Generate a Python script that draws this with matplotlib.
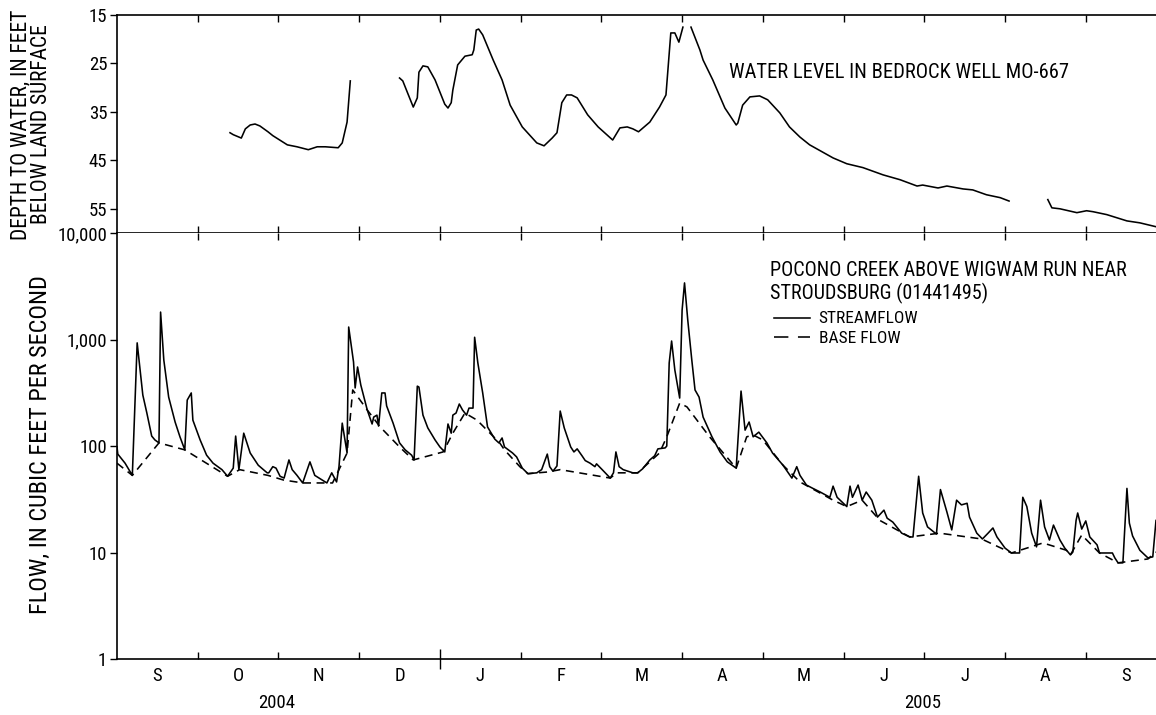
import matplotlib
matplotlib.use('Agg')
import matplotlib.pyplot as plt
import matplotlib.transforms as mtransforms
from matplotlib.ticker import FixedLocator, FuncFormatter, NullLocator

plt.rcParams['font.family'] = ['Roboto Condensed', 'Archivo Narrow', 'PT Sans Narrow', 'DejaVu Sans']

# x positions are in months since 1 Sep 2004 (each month drawn equal width)
month_labels = ['S', 'O', 'N', 'D', 'J', 'F', 'M', 'A', 'M', 'J', 'J', 'A', 'S']
year_labels = ['2004', '2005']
year_pos = [2.0, 10.0]

# water level in bedrock well MO-667, depth below land surface (ft); gaps between pieces
well_x1 = [1.40, 1.44, 1.54, 1.59, 1.65, 1.71, 1.77, 1.87, 1.93, 2.11, 2.23, 2.37, 2.48, 2.58,
           2.74, 2.79, 2.85, 2.89]
well_d1 = [39.3, 39.7, 40.4, 38.5, 37.7, 37.5, 37.9, 39.1, 39.9, 41.8, 42.2, 42.8, 42.2, 42.2,
           42.4, 41.4, 37.1, 28.6]
well_x2 = [3.50, 3.54, 3.60, 3.67, 3.72, 3.74, 3.79, 3.85, 3.94, 4.00, 4.06, 4.10, 4.14, 4.16,
           4.22, 4.31, 4.40, 4.42, 4.45, 4.48, 4.53, 4.66, 4.77, 4.87, 5.02, 5.20, 5.29, 5.39,
           5.45, 5.51, 5.57, 5.63, 5.70, 5.83, 5.96, 6.14, 6.23, 6.32, 6.39, 6.46, 6.60, 6.72,
           6.80, 6.86, 6.91, 6.96, 7.01]
well_d2 = [28.0, 28.6, 31.1, 34.0, 32.1, 26.8, 25.5, 25.7, 28.4, 30.9, 33.4, 34.2, 33.1, 30.5,
           25.3, 23.5, 23.2, 22.2, 18.1, 17.9, 19.1, 24.3, 28.4, 33.6, 38.1, 41.4, 42.0, 40.4,
           39.3, 33.1, 31.5, 31.5, 32.1, 35.6, 38.1, 40.8, 38.3, 38.1, 38.5, 39.1, 37.1, 34.0,
           31.5, 18.7, 18.7, 20.6, 17.5]
well_x3 = [7.11, 7.22, 7.26, 7.38, 7.53, 7.67, 7.69, 7.75, 7.84, 7.96, 8.06, 8.21, 8.33, 8.46,
           8.58, 8.87, 9.04, 9.24, 9.49, 9.70, 9.91, 9.98, 10.17, 10.28, 10.48, 10.60, 10.77,
           10.94, 11.05]
well_d3 = [17.5, 22.2, 24.3, 28.4, 34.2, 37.7, 37.3, 33.6, 31.9, 31.7, 32.5, 35.2, 38.1, 40.2,
           41.8, 44.5, 45.7, 46.5, 48.0, 49.0, 50.3, 50.1, 50.7, 50.3, 50.9, 51.1, 52.1,
           52.7, 53.4]
well_x4 = [11.53, 11.58, 11.68, 11.89, 12.01, 12.09, 12.26, 12.51, 12.67, 12.87]
well_d4 = [53.1, 54.8, 55.0, 55.8, 55.4, 55.6, 56.2, 57.5, 57.9, 58.7]

# Pocono Creek streamflow (ft3/s)
flow_x = [0.00, 0.01, 0.10, 0.19, 0.25, 0.32, 0.37, 0.43, 0.47, 0.52, 0.54, 0.58, 0.64, 0.72,
          0.78, 0.84, 0.87, 0.92, 0.94, 1.03, 1.11, 1.19, 1.30, 1.37, 1.44, 1.47, 1.51, 1.57,
          1.65, 1.75, 1.86, 1.88, 1.93, 1.97, 2.02, 2.07, 2.13, 2.17, 2.23, 2.30, 2.39, 2.45,
          2.54, 2.60, 2.66, 2.72, 2.75, 2.79, 2.85, 2.87, 2.93, 2.95, 2.98, 3.02, 3.10, 3.16,
          3.18, 3.22, 3.24, 3.28, 3.32, 3.34, 3.42, 3.50, 3.57, 3.65, 3.68, 3.72, 3.74, 3.79,
          3.85, 3.94, 4.00, 4.06, 4.10, 4.14, 4.16, 4.20, 4.24, 4.28, 4.33, 4.36, 4.41, 4.43,
          4.47, 4.53, 4.59, 4.68, 4.73, 4.77, 4.80, 4.90, 4.95, 5.02, 5.09, 5.20, 5.26, 5.33,
          5.36, 5.40, 5.45, 5.49, 5.54, 5.62, 5.66, 5.70, 5.76, 5.80, 5.86, 5.92, 5.94, 6.01,
          6.11, 6.15, 6.18, 6.22, 6.27, 6.33, 6.39, 6.45, 6.51, 6.60, 6.66, 6.70, 6.79, 6.81,
          6.84, 6.87, 6.91, 6.97, 7.00, 7.03, 7.07, 7.12, 7.16, 7.21, 7.26, 7.37, 7.47, 7.56,
          7.67, 7.73, 7.78, 7.83, 7.88, 7.95, 8.05, 8.12, 8.25, 8.36, 8.42, 8.46, 8.54, 8.62,
          8.71, 8.83, 8.87, 8.92, 9.04, 9.08, 9.11, 9.18, 9.23, 9.28, 9.35, 9.42, 9.50, 9.54,
          9.61, 9.72, 9.82, 9.86, 9.93, 9.98, 10.04, 10.15, 10.20, 10.28, 10.34, 10.40, 10.46,
          10.53, 10.56, 10.65, 10.72, 10.79, 10.85, 10.90, 11.00, 11.08, 11.18, 11.22, 11.27,
          11.33, 11.39, 11.44, 11.49, 11.55, 11.60, 11.68, 11.74, 11.81, 11.84, 11.88, 11.90,
          11.95, 12.00, 12.05, 12.14, 12.17, 12.26, 12.33, 12.36, 12.40, 12.46, 12.51, 12.54,
          12.58, 12.67, 12.77, 12.83, 12.87]
flow_q = [98, 84, 69, 53, 930, 301, 204, 124, 114, 107, 1810, 642, 288, 168,
          122, 92, 270, 315, 175, 114, 82, 69, 60, 52, 62, 124, 60, 132,
          86, 66, 56, 56, 64, 62, 52, 50, 74, 60, 53, 45, 71, 53,
          48, 45, 56, 46, 64, 164, 86, 1310, 615, 351, 552, 374, 218, 161,
          187, 195, 154, 315, 315, 238, 164, 107, 92, 82, 74, 365, 358, 195,
          148, 114, 98, 88, 161, 132, 195, 204, 248, 218, 195, 227, 227, 1050,
          602, 315, 151, 116, 107, 119, 98, 86, 79, 62, 55, 56, 60, 84,
          64, 58, 65, 213, 148, 98, 88, 94, 81, 73, 69, 64, 68, 60,
          50, 56, 88, 64, 60, 58, 56, 56, 61, 74, 81, 94, 96, 100,
          602, 968, 517, 282, 1890, 3400, 1524, 642, 336, 288, 187, 122, 88, 71,
          62, 328, 141, 168, 122, 135, 107, 86, 66, 50, 64, 53, 43, 40,
          37, 33, 42, 33, 27, 42, 33, 43, 31, 37, 31, 21.5, 25, 21,
          19.3, 15.2, 14.0, 14.0, 52, 23.5, 17.4, 14.9, 39, 24, 16.3, 31, 28,
          29, 21.5, 15.2, 13.4, 15.2, 17.0, 14.0, 11.0, 9.9, 9.9, 33, 27,
          15.2, 11.3, 31, 17.4, 13.1, 18.1, 13.1, 11.0, 9.5, 10.1, 20, 23.5,
          16.6, 19.8, 14.0, 11.8, 9.9, 9.9, 9.9, 8.9, 8.0, 8.0, 40, 18.9,
          14.3, 10.5, 8.9, 9.1, 20]

# base flow (ft3/s)
base_x = [0.00, 0.19, 0.52, 0.84, 1.37, 1.52, 1.87, 2.06, 2.30, 2.67, 2.85, 2.92, 3.10, 3.26,
          3.50, 3.67, 4.04, 4.16, 4.31, 4.46, 4.74, 4.80, 4.99, 5.09, 5.33, 5.49, 6.11, 6.19,
          6.45, 6.72, 6.81, 6.97, 7.06, 7.34, 7.67, 7.80, 7.88, 8.00, 8.25, 8.46, 8.87, 9.04,
          9.23, 9.45, 9.82, 10.19, 10.71, 11.08, 11.47, 11.76, 11.81, 11.95, 12.17, 12.40,
          12.77, 12.87]
base_q = [69, 53, 107, 92, 52, 60, 53, 48, 45, 45, 86, 336, 218, 151,
          98, 74, 88, 132, 204, 175, 107, 92, 64, 55, 57, 60, 50, 56,
          56, 86, 122, 253, 233, 122, 62, 122, 127, 114, 66, 46, 31, 27,
          31, 20, 14.0, 15.2, 13.4, 9.9, 12.3, 10.5, 9.5, 14.6, 9.9, 8.0,
          8.7, 10.1]

fig = plt.figure(figsize=(11.56, 7.15), dpi=100)
ax1 = fig.add_axes([0.1012, 0.6741, 0.8988, 0.3049])
ax2 = fig.add_axes([0.1012, 0.0783, 0.8988, 0.5958])

lw = 1.15
ax1.plot(well_x1, well_d1, '-', color='black', lw=lw)
ax1.plot(well_x2, well_d2, '-', color='black', lw=lw)
ax1.plot(well_x3, well_d3, '-', color='black', lw=lw)
ax1.plot(well_x4, well_d4, '-', color='black', lw=lw)

ax2.plot(flow_x, flow_q, '-', color='black', lw=lw)
ax2.plot(base_x, base_q, '--', color='black', lw=lw, dashes=(5, 3.5))

xmax = 12.87
ax1.set_xlim(0, xmax)
ax2.set_xlim(0, xmax)
ax1.set_ylim(60, 15)
ax2.set_yscale('log')
ax2.set_ylim(1, 10000)

for ax in (ax1, ax2):
    ax.spines['right'].set_visible(False)
    for s in ax.spines.values():
        s.set_linewidth(1.2)
    ax.xaxis.set_major_locator(FixedLocator(range(1, 13)))
    ax.xaxis.set_minor_locator(FixedLocator([i + 0.5 for i in range(13)]))
    ax.tick_params(axis='y', direction='out', length=5, width=1, labelsize=13.5, pad=2)

ax2.spines['top'].set_visible(False)

ax1.set_yticks([15, 25, 35, 45, 55])
ax1.tick_params(axis='x', which='major', top=True, bottom=True, direction='in',
                length=5, width=1, labelbottom=False)
ax1.tick_params(axis='x', which='minor', top=False, bottom=False, labelbottom=False)

ax2.set_yticks([1, 10, 100, 1000, 10000])
ax2.yaxis.set_minor_locator(NullLocator())
ax2.yaxis.set_major_formatter(FuncFormatter(lambda v, p: '{:,.0f}'.format(v)))
ax2.tick_params(axis='x', which='major', top=True, bottom=True, direction='in', length=5,
                width=1, labelbottom=False)
ax2.tick_params(axis='x', which='minor', top=False, length=0, labelsize=13.5, pad=6)
ax2.xaxis.set_ticklabels(month_labels, minor=True)

# longer tick at the change of year
year_tick = ax2.xaxis.get_major_ticks()[3].tick1line
year_tick.set_marker('|')
year_tick.set_markersize(14)

trans = mtransforms.blended_transform_factory(ax2.transData, ax2.transAxes)
for lab, pos in zip(year_labels, year_pos):
    ax2.text(pos - 0.02, -0.103, lab, transform=trans, ha='center', va='center', fontsize=13.5)

ax1.text(7.58, 26.9, 'WATER LEVEL IN BEDROCK WELL MO-667', fontsize=14.8,
         ha='left', va='center')

ax2.text(8.09, 0.913, 'POCONO CREEK ABOVE WIGWAM RUN NEAR', transform=trans,
         fontsize=14.5, ha='left', va='center')
ax2.text(8.09, 0.859, 'STROUDSBURG (01441495)', transform=trans,
         fontsize=14.5, ha='left', va='center')
ax2.plot([8.14, 8.58], [0.800, 0.800], '-', color='black', lw=lw, transform=trans)
ax2.plot([8.14, 8.58], [0.756, 0.756], '--', color='black', lw=lw, dashes=(9, 6),
         transform=trans)
ax2.text(8.69, 0.800, 'STREAMFLOW', transform=trans, fontsize=12.5, ha='left', va='center')
ax2.text(8.69, 0.752, 'BASE FLOW', transform=trans, fontsize=12.5, ha='left', va='center')

fig.text(0.027, 0.826, 'DEPTH TO WATER, IN FEET\nBELOW LAND SURFACE', rotation=90,
         ha='center', va='center', fontsize=15.5, linespacing=1.0)
fig.text(0.035, 0.378, 'FLOW, IN CUBIC FEET PER SECOND', rotation=90,
         ha='center', va='center', fontsize=17.5)

fig.savefig('out.png', dpi=100)
